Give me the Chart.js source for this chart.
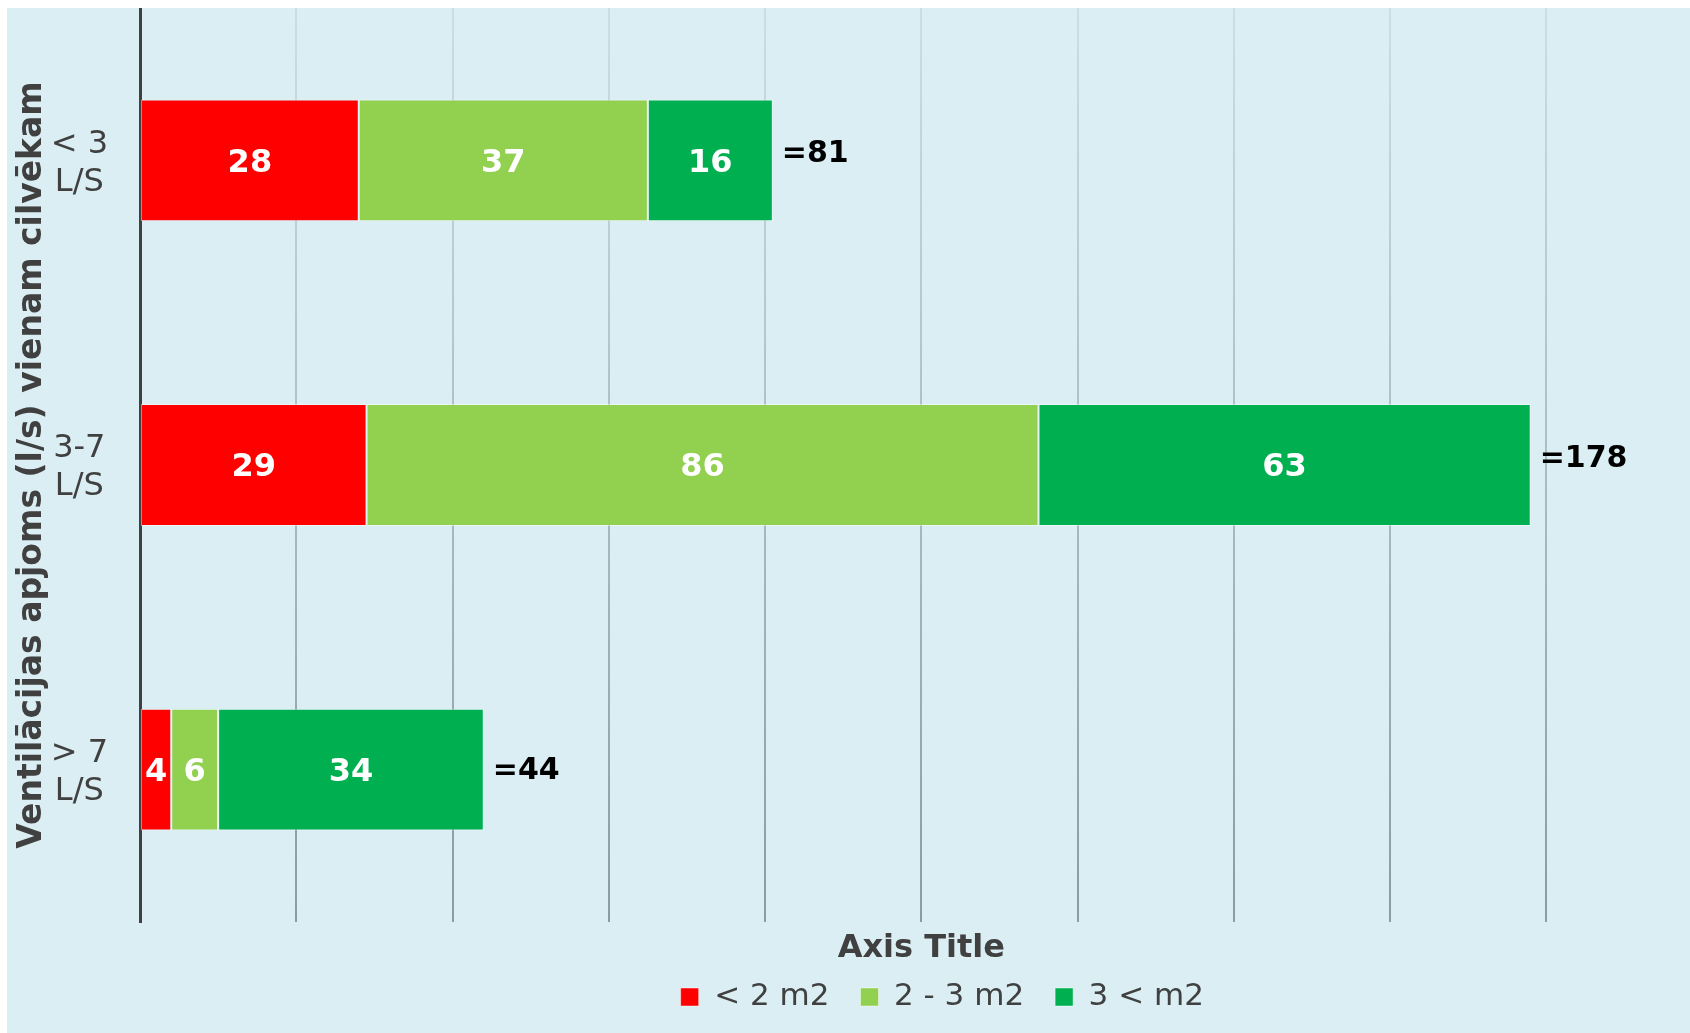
<!DOCTYPE html>
<html>
<head>
<meta charset="utf-8">
<script src="https://cdn.jsdelivr.net/npm/chart.js@4.4.1/dist/chart.umd.min.js"></script>
<style>
html, body { margin: 0; padding: 0; background: #fff; overflow: hidden; }
#wrap { position: absolute; left: 7px; top: 8px; width: 1870px; height: 1030px; background: #DAEEF3; }
</style>
</head>
<body>
<div id="wrap"><canvas id="chart"></canvas></div>
<script>
// data
var categories = [['< 3', 'L/S'], ['3-7', 'L/S'], ['> 7', 'L/S']];
var seriesNames = ['< 2 m2', '2 - 3 m2', '3 < m2'];
var under2 = [28, 29, 4];
var from2to3 = [37, 86, 6];
var over3 = [16, 63, 34];
var xMax = 200;
var xStep = 20;

var totals = categories.map(function(c, i) { return under2[i] + from2to3[i] + over3[i]; });
var totalShift = [-6, -6, 2];

Chart.defaults.font.family = '"DejaVu Sans", Verdana, sans-serif';
Chart.defaults.color = '#404040';

var barBorder = 'rgba(255,255,255,0.45)';

var barLabels = {
	id: 'barLabels',
	afterDatasetsDraw: function(chart) {
		var ctx = chart.ctx;
		ctx.save();
		ctx.textBaseline = 'middle';
		ctx.textAlign = 'center';
		ctx.fillStyle = '#ffffff';
		ctx.font = 'bold 32px "DejaVu Sans"';
		chart.data.datasets.forEach(function(ds, i) {
			chart.getDatasetMeta(i).data.forEach(function(bar, j) {
				ctx.fillText(String(ds.data[j]), (bar.x + bar.base) / 2, bar.y + 3);
			});
		});
		var xs = chart.scales.x;
		var meta = chart.getDatasetMeta(0);
		ctx.textAlign = 'left';
		ctx.fillStyle = '#000000';
		ctx.font = 'bold 30px "DejaVu Sans"';
		totals.forEach(function(t, j) {
			ctx.fillText('=' + t, xs.getPixelForValue(t) + 9, meta.data[j].y + totalShift[j]);
		});
		ctx.restore();
	}
};

// legend sits centred on the whole (cropped) chart, not on the plot
var legendShift = {
	id: 'legendShift',
	afterLayout: function(chart) {
		chart.legend.left += 21;
		chart.legend.right += 21;
	}
};

var ctx = document.getElementById('chart');
var myChart = new Chart(ctx, {
	type: 'bar',
	data: {
		labels: categories,
		datasets: [{
			label: seriesNames[0],
			data: under2,
			backgroundColor: '#FF0000',
			borderColor: barBorder,
			borderWidth: 1,
			borderSkipped: false
		}, {
			label: seriesNames[1],
			data: from2to3,
			backgroundColor: '#92D050',
			borderColor: barBorder,
			borderWidth: 1,
			borderSkipped: false
		}, {
			label: seriesNames[2],
			data: over3,
			backgroundColor: '#00B050',
			borderColor: barBorder,
			borderWidth: 1,
			borderSkipped: false
		}]
	},
	options: {
		indexAxis: 'y',
		responsive: true,
		maintainAspectRatio: false,
		animation: false,
		layout: { padding: { left: 0, top: 0, right: 174.4, bottom: 15.5 } },
		datasets: { bar: { categoryPercentage: 1, barPercentage: 0.4 } },
		scales: {
			x: {
				stacked: true,
				min: 0,
				max: xMax,
				ticks: { display: false, stepSize: xStep },
				grid: {
					drawTicks: false,
					lineWidth: 2,
					color: function(c) {
						var area = c.chart.chartArea;
						if (!area) return '#a0aeb5';
						var g = c.chart.ctx.createLinearGradient(0, area.top, 0, area.bottom);
						g.addColorStop(0, '#cddde3');
						g.addColorStop(1, '#8c9ba3');
						return g;
					}
				},
				border: { display: false },
				title: {
					display: true,
					text: 'Axis Title',
					color: '#404040',
					font: { size: 32, weight: 'bold' },
					padding: { top: 7.8, bottom: -17.7 }
				}
			},
			y: {
				stacked: true,
				grid: { display: false, drawTicks: false },
				border: { display: true, color: '#404040', width: 3 },
				ticks: {
					color: '#404040',
					padding: 32,
					crossAlign: 'center',
					labelOffset: 3,
					font: { size: 32, lineHeight: 1.18 }
				},
				title: {
					display: true,
					text: 'Ventilācijas apjoms (l/s) vienam cilvēkam',
					color: '#404040',
					font: { size: 33, weight: 'bold' },
					padding: { top: 5.2, bottom: 0 }
				},
				afterFit: function(scale) {
					scale.width = 133;
					scale.paddingTop = 0;
					scale.paddingBottom = 0;
				}
			}
		},
		plugins: {
			legend: {
				position: 'bottom',
				fullSize: false,
				labels: {
					color: '#404040',
					boxWidth: 18,
					boxHeight: 18,
					padding: 31,
					font: { size: 31 }
				}
			},
			tooltip: { enabled: false }
		}
	},
	plugins: [barLabels, legendShift]
});
</script>
</body>
</html>
